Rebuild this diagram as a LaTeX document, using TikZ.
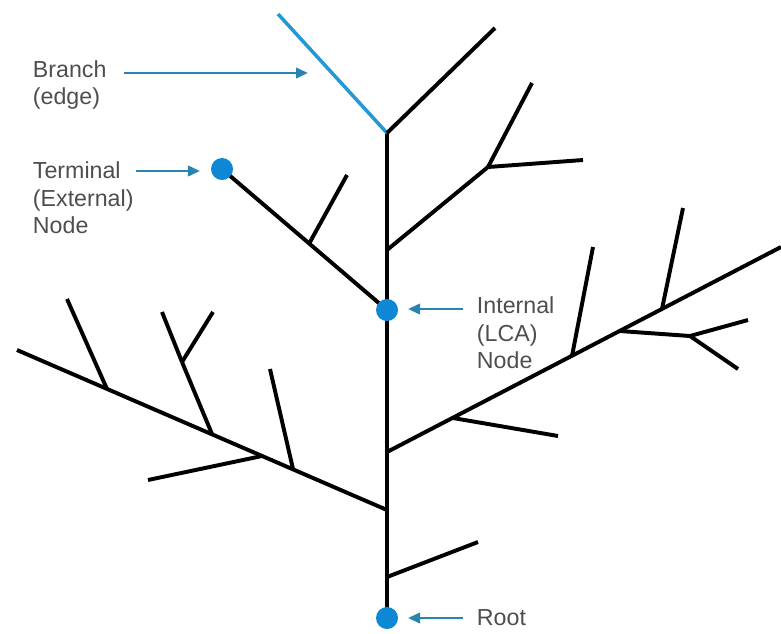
\documentclass[tikz,border=0pt]{standalone}
\usepackage{fontspec}
\setmainfont{Liberation Sans}
\usetikzlibrary{arrows.meta}
\definecolor{dotblue}{RGB}{14,136,212}
\definecolor{edgeblue}{RGB}{34,152,212}
\definecolor{ptrblue}{RGB}{40,132,176}
\definecolor{txtgray}{RGB}{78,78,78}
\begin{document}
\begin{tikzpicture}[
	x={(0.025cm,0)}, y={(0,-0.025cm)},
	br/.style = {draw=black, line width=2.8pt},
	hl/.style = {draw=edgeblue, line width=2.5pt},
	dot/.style = {circle, fill=dotblue, inner sep=0pt, minimum size=0.55cm},
	lbl/.style = {anchor=west, align=left, text=txtgray, font=\fontsize{16.5}{19.5}\selectfont},
	ptr/.style = {draw=ptrblue, line width=1.8pt, -{Triangle[length=0.3cm, width=0.26cm]}}
	]
	\useasboundingbox (0,0) rectangle (781,633);
	
	%Trunk
	\coordinate	(root)	at	(387, 618);
	\coordinate	(b1)	at	(387, 577);
	\coordinate	(b2)	at	(387, 510);
	\coordinate	(b3)	at	(387, 452);
	\coordinate	(lca)	at	(387, 310);
	\coordinate	(b4)	at	(387, 250);
	\coordinate	(top)	at	(387, 133);
	
	%Upper part
	\coordinate	(blue)	at	(278, 14);
	\coordinate	(tr)	at	(495, 28);
	\coordinate	(j4)	at	(488, 167);
	\coordinate	(j4a)	at	(532, 83);
	\coordinate	(j4b)	at	(583, 160);
	\coordinate	(term)	at	(222, 169);
	\coordinate	(tj)	at	(310, 242);
	\coordinate	(tja)	at	(347, 175);
	
	%Left branch
	\coordinate	(lend)	at	(17, 350);
	\coordinate	(la)	at	(107, 389);
	\coordinate	(laa)	at	(67, 299);
	\coordinate	(lb)	at	(212, 434);
	\coordinate	(lbj)	at	(182, 362);
	\coordinate	(lbja)	at	(162, 312);
	\coordinate	(lbjb)	at	(213, 312);
	\coordinate	(lc)	at	(262, 456);
	\coordinate	(lca1)	at	(148, 480);
	\coordinate	(ld)	at	(293, 469);
	\coordinate	(lda)	at	(270, 369);
	
	%Right branch
	\coordinate	(rend)	at	(781, 247);
	\coordinate	(ra)	at	(453, 418);
	\coordinate	(raa)	at	(558, 436);
	\coordinate	(rb)	at	(572, 356);
	\coordinate	(rba)	at	(593, 247);
	\coordinate	(rc)	at	(620, 331);
	\coordinate	(rcj)	at	(690, 336);
	\coordinate	(rcja)	at	(748, 320);
	\coordinate	(rcjb)	at	(738, 369);
	\coordinate	(rd)	at	(662, 309);
	\coordinate	(rda)	at	(683, 208);
	
	%Bottom twig
	\coordinate	(bt)	at	(478, 542);
	
	%Lines
	\draw[br]	(root)	--	(top);
	\draw[hl]	(top)	--	(blue);
	\draw[br]	(top)	--	(tr);
	\draw[br]	(b4)	--	(j4);
	\draw[br]	(j4)	--	(j4a);
	\draw[br]	(j4)	--	(j4b);
	\draw[br]	(lca)	--	(term);
	\draw[br]	(tj)	--	(tja);
	
	\draw[br]	(b2)	--	(lend);
	\draw[br]	(la)	--	(laa);
	\draw[br]	(lb)	--	(lbj);
	\draw[br]	(lbj)	--	(lbja);
	\draw[br]	(lbj)	--	(lbjb);
	\draw[br]	(lc)	--	(lca1);
	\draw[br]	(ld)	--	(lda);
	
	\draw[br]	(b3)	--	(rend);
	\draw[br]	(ra)	--	(raa);
	\draw[br]	(rb)	--	(rba);
	\draw[br]	(rc)	--	(rcj);
	\draw[br]	(rcj)	--	(rcja);
	\draw[br]	(rcj)	--	(rcjb);
	\draw[br]	(rd)	--	(rda);
	
	\draw[br]	(b1)	--	(bt);
	
	%Nodes
	\node[dot]	(rootdot)	at	(root)	{};
	\node[dot]	(lcadot)	at	(lca)	{};
	\node[dot]	(termdot)	at	(term)	{};
	
	\node[lbl]	(branchlbl)	at	(28, 85)	{Branch\\(edge)};
	\node[lbl]	(termlbl)	at	(28, 198)	{Terminal\\(External)\\Node};
	\node[lbl]	(intlbl)	at	(472, 333)	{Internal\\(LCA)\\Node};
	\node[lbl]	(rootlbl)	at	(472, 618)	{Root};
	
	%Pointers
	\coordinate	(p1s)	at	(124, 73);
	\coordinate	(p1e)	at	(308, 73);
	\coordinate	(p2s)	at	(136, 171);
	\coordinate	(p2e)	at	(200, 171);
	\coordinate	(p3s)	at	(463, 309);
	\coordinate	(p3e)	at	(408, 309);
	\coordinate	(p4s)	at	(463, 618);
	\coordinate	(p4e)	at	(408, 618);
	
	\draw[ptr]	(p1s)	--	(p1e);
	\draw[ptr]	(p2s)	--	(p2e);
	\draw[ptr]	(p3s)	--	(p3e);
	\draw[ptr]	(p4s)	--	(p4e);
\end{tikzpicture}
\end{document}
